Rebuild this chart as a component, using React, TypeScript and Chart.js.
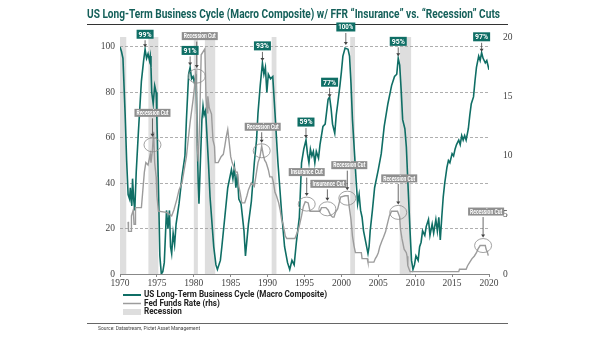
import React, { useEffect, useRef } from 'react';
import { Chart, registerables } from 'chart.js';

Chart.register(...registerables);

// ---------- data ----------
const macroYears = [
  1970.0, 1970.2, 1970.4, 1970.7, 1970.9, 1971.1, 1971.3, 1971.4, 1971.6, 1971.7, 1971.85, 1972.0, 1972.2, 1972.5, 1972.9,
  1973.2, 1973.4, 1973.6, 1973.8, 1974.0, 1974.1, 1974.2, 1974.3, 1974.5, 1974.7, 1974.9, 1975.0, 1975.2, 1975.4, 1975.6,
  1975.8, 1976.0, 1976.3, 1976.5, 1976.7, 1976.85, 1977.0, 1977.2, 1977.4, 1977.6, 1978.0, 1978.4, 1978.8, 1979.0, 1979.3,
  1979.5, 1979.7, 1979.9, 1980.1, 1980.3, 1980.45, 1980.6, 1980.7, 1980.9, 1981.1, 1981.25, 1981.4, 1981.6, 1981.7, 1982.0,
  1982.2, 1982.7, 1983.0, 1983.2, 1983.6, 1983.8, 1984.2, 1984.6, 1985.1, 1985.3, 1985.5, 1985.7, 1985.9, 1986.1, 1986.4,
  1986.8, 1987.0, 1987.4, 1987.8, 1988.2, 1988.5, 1988.7, 1989.0, 1989.3, 1989.5, 1989.7, 1989.9, 1990.1, 1990.4, 1990.7,
  1991.0, 1991.4, 1991.9, 1992.3, 1992.7, 1993.0, 1993.3, 1993.6, 1993.9, 1994.3, 1994.6, 1994.9, 1995.2, 1995.4, 1995.6,
  1995.8, 1996.0, 1996.2, 1996.4, 1996.6, 1996.9, 1997.1, 1997.5, 1997.8, 1998.2, 1998.4, 1998.6, 1998.8, 1999.1, 1999.3,
  1999.5, 1999.8, 2000.0, 2000.2, 2000.5, 2000.9, 2001.1, 2001.3, 2001.5, 2001.8, 2002.0, 2002.2, 2002.4, 2002.6, 2002.8,
  2003.0, 2003.3, 2003.6, 2003.75, 2003.9, 2004.2, 2004.5, 2005.0, 2005.4, 2005.8, 2006.3, 2006.8, 2007.2, 2007.5, 2007.7,
  2007.9, 2008.1, 2008.3, 2008.6, 2008.8, 2009.0, 2009.3, 2009.5, 2009.7, 2009.9, 2010.1, 2010.4, 2010.6, 2010.8, 2011.0,
  2011.3, 2011.5, 2011.8, 2012.0, 2012.3, 2012.5, 2012.8, 2013.0, 2013.2, 2013.4, 2013.6, 2013.8, 2014.0, 2014.3, 2014.5,
  2014.7, 2015.0, 2015.2, 2015.4, 2015.6, 2015.9, 2016.1, 2016.3, 2016.5, 2016.7, 2016.9, 2017.2, 2017.4, 2017.6, 2017.9,
  2018.1, 2018.3, 2018.6, 2018.8, 2019.0, 2019.2, 2019.5, 2019.7, 2020.0,
];
const macroValues = [
  100, 98, 95, 70, 50, 35, 33, 38, 30, 42, 33, 28, 45, 63, 85,
  94, 99, 95, 97, 94, 96, 91, 80, 75, 83, 80, 68, 40, 8, 0,
  1, 5, 28, 20, 28, 12, 9, 18, 13, 22, 31, 43, 52, 68, 88,
  91, 86, 87, 84, 88, 62, 40, 31, 50, 68, 74, 70, 72, 66, 48,
  34, 12, 4, 2, 6, 12, 25, 38, 46, 42, 47, 38, 44, 33, 31,
  19, 8, 22, 32, 49, 59, 71, 83, 93, 88, 91, 80, 88, 86, 87,
  71, 49, 27, 12, 5, 2, 6, 4, 14, 25, 49, 55, 59, 53, 49,
  55, 52, 54, 49, 54, 51, 57, 65, 66, 77, 78, 73, 66, 62, 70,
  75, 83, 89, 96, 99.5, 99, 96, 84, 68, 52, 41, 31, 35, 28, 25,
  19, 14, 9, 12, 19, 28, 38, 46, 53, 65, 75, 83, 87, 88, 95,
  92, 81, 68, 64, 56, 41, 19, 6, 2, 4, 8, 6, 12, 14, 19,
  17, 21, 24, 17, 22, 18, 24, 19, 25, 15, 25, 34, 40, 47, 50,
  49, 53, 52, 55, 57, 59, 57, 61, 59, 61, 59, 64, 70, 75, 78,
  85, 91, 96, 94, 97.5, 95, 93, 94, 90,
];

const ffrYears = [
  1971.1, 1971.15, 1971.5, 1971.55, 1971.8, 1971.9, 1972.05, 1972.1, 1972.9, 1973.1, 1973.3, 1973.5, 1973.8, 1974.1, 1974.2,
  1974.4, 1974.55, 1974.7, 1974.9, 1975.0, 1975.2, 1976.3, 1977.0, 1977.3, 1977.7, 1978.0, 1978.4, 1978.7, 1979.0, 1979.2,
  1979.5, 1979.9, 1980.1, 1980.3, 1980.45, 1980.6, 1980.8, 1981.0, 1981.5, 1981.65, 1981.8, 1981.9, 1982.1, 1982.4, 1982.6,
  1982.8, 1982.9, 1983.3, 1983.7, 1984.0, 1984.2, 1984.4, 1984.6, 1984.8, 1985.0, 1985.2, 1985.4, 1985.7, 1985.9, 1986.1,
  1986.3, 1986.5, 1986.9, 1987.2, 1987.4, 1987.6, 1987.8, 1988.2, 1988.5, 1988.7, 1988.97, 1989.2, 1989.4, 1989.6, 1989.8,
  1990.1, 1990.3, 1990.6, 1990.8, 1991.0, 1991.2, 1991.5, 1991.7, 1991.9, 1992.1, 1992.4, 1992.6, 1993.7, 1994.2, 1994.6,
  1994.85, 1995.1, 1995.5, 1995.75, 1997.1, 1997.3, 1997.9, 1998.2, 1998.5, 1998.8, 1999.0, 1999.2, 1999.5, 1999.7, 1999.9,
  2000.5, 2000.9, 2001.05, 2001.3, 2001.5, 2001.7, 2001.9, 2002.7, 2002.8, 2003.5, 2003.6, 2004.4, 2004.6, 2004.8, 2005.0,
  2005.2, 2005.5, 2005.7, 2006.0, 2006.1, 2006.3, 2006.5, 2006.8, 2007.6, 2007.9, 2008.0, 2008.2, 2008.3, 2008.5, 2008.8,
  2008.9, 2009.0, 2009.3, 2015.9, 2016.0, 2016.9, 2017.1, 2017.4, 2017.7, 2018.0, 2018.3, 2018.5, 2018.8, 2019.5, 2019.6,
  2019.8, 2019.9,
];
const ffrValues = [
  4.4, 3.6, 3.6, 4.9, 5.4, 4.2, 4.2, 5.6, 5.6, 7.1, 8.6, 9.4, 9.2, 10.1, 9.4,
  10.5, 12.0, 9.4, 8.2, 6.6, 5.3, 5.2, 4.9, 5.4, 6.3, 7.1, 7.7, 8.8, 9.9, 11.1,
  12.8, 14.7, 15.8, 17.2, 11.0, 9.5, 13.0, 18.5, 19.0, 15.0, 13.6, 15.0, 14.0, 13.5, 11.3,
  10.8, 9.4, 9.4, 9.9, 10.1, 10.8, 11.6, 12.2, 11.1, 9.9, 9.4, 9.1, 8.6, 8.6, 7.4,
  6.8, 6.0, 6.0, 6.6, 7.1, 7.4, 7.7, 7.4, 8.6, 9.4, 9.9, 10.8, 10.1, 9.6, 9.4,
  8.8, 8.2, 8.2, 7.7, 6.9, 6.6, 6.0, 5.4, 4.6, 4.2, 3.2, 3.0, 3.0, 3.8, 4.9,
  5.7, 6.1, 6.0, 5.3, 5.3, 5.6, 5.6, 5.4, 5.0, 4.8, 4.8, 5.2, 5.5, 6.0, 6.5,
  6.6, 6.6, 5.7, 4.6, 3.2, 2.4, 1.8, 1.8, 1.3, 1.3, 1.0, 1.0, 1.3, 1.5, 1.8,
  2.3, 2.8, 3.1, 3.6, 3.9, 4.4, 4.9, 5.3, 5.3, 4.8, 3.8, 3.0, 2.7, 2.1, 1.8,
  1.5, 0.7, 0.2, 0.2, 0.4, 0.4, 0.7, 1.0, 1.3, 1.5, 1.8, 2.1, 2.4, 2.4, 2.1,
  1.8, 1.55,
];

const recessionStarts = [1969.9, 1973.85, 1980.0, 1981.5, 1990.55, 2001.2, 2007.9];
const recessionEnds = [1970.85, 1975.2, 1980.55, 1982.9, 1991.2, 2001.85, 2009.45];

const peakLabels = ['99%', '91%', '93%', '59%', '77%', '100%', '95%', '97%'];
const peakYears = [1973.4, 1979.5, 1989.3, 1995.2, 1998.4, 2000.6, 2007.7, 2019.0];
const peakValues = [99, 91, 93, 59, 77, 100, 95, 97];

const cutLabels = ['Recession Cut', 'Recession Cut', 'Recession Cut', 'Insurance Cut', 'Insurance Cut', 'Recession Cut', 'Recession Cut', 'Recession Cut'];
const cutYears = [1974.4, 1980.4, 1989.2, 1995.3, 1998.1, 2000.8, 2007.7, 2019.2];
const cutRates = [10.9, 16.7, 10.4, 5.9, 5.5, 6.4, 5.2, 2.4];

const titleText = 'US Long-Term Business Cycle (Macro Composite) w/ FFR \u201CInsurance\u201D vs. \u201CRecession\u201D Cuts';
const legendLabels = ['US Long-Term Business Cycle (Macro Composite)', 'Fed Funds Rate (rhs)', 'Recession'];
const sourceText = 'Source: Datastream, Pictet Asset Management';

// ---------- layout / style (not data) ----------
const TEAL = '#0f6e65';
const GREY_LINE = '#9c9c9c';
const BAND = '#dedede';
const peakDy = [-15, -17, -17, -18, -17, -20, -17, -17];
const cutDx = [0, 3, 1, 0, 1, 2, 1, 3];
const cutDy = [-32, -40, -24, -32, -25, -33, -34, -34];

function drawFitted(ctx: CanvasRenderingContext2D, text: string, x: number, y: number, font: string, color: string, width: number | null, align: CanvasTextAlign = 'left', scaleOverride?: number) {
  ctx.save();
  ctx.font = font;
  ctx.fillStyle = color;
  ctx.textBaseline = 'middle';
  ctx.textAlign = align;
  const w = ctx.measureText(text).width;
  const s = scaleOverride !== undefined ? scaleOverride : (width ? width / w : 1);
  ctx.translate(x, y);
  ctx.scale(s, 1);
  ctx.fillText(text, 0, 0);
  ctx.restore();
  return s;
}

function arrow(ctx: CanvasRenderingContext2D, x: number, y1: number, y2: number) {
  ctx.save();
  ctx.strokeStyle = '#444';
  ctx.fillStyle = '#444';
  ctx.lineWidth = 0.8;
  ctx.beginPath();
  ctx.moveTo(x, y1);
  ctx.lineTo(x, y2 - 2);
  ctx.stroke();
  ctx.beginPath();
  ctx.moveTo(x - 2, y2 - 3);
  ctx.lineTo(x + 2, y2 - 3);
  ctx.lineTo(x, y2);
  ctx.closePath();
  ctx.fill();
  ctx.restore();
}

const overlayPlugin = {
  id: 'overlay',
  beforeDraw(chart: any) {
    const { ctx, chartArea, scales } = chart;
    const xs = scales.x;
    ctx.save();
    ctx.fillStyle = BAND;
    for (let i = 0; i < recessionStarts.length; i++) {
      const a = Math.max(chartArea.left, xs.getPixelForValue(recessionStarts[i]));
      const b = Math.min(chartArea.right, xs.getPixelForValue(recessionEnds[i]));
      ctx.fillRect(a, chartArea.top, b - a, chartArea.bottom - chartArea.top);
    }
    ctx.restore();
  },
  afterDraw(chart: any) {
    const { ctx, scales } = chart;
    const xs = scales.x, ys = scales.y, y1 = scales.y1;

    // title
    drawFitted(ctx, titleText, 87, 15, 'bold 12px Roboto, sans-serif', '#15605a', 413);
    ctx.save();
    ctx.strokeStyle = '#333';
    ctx.lineWidth = 1;
    ctx.beginPath();
    ctx.moveTo(87, 24.5);
    ctx.lineTo(508, 24.5);
    ctx.stroke();
    // separator
    ctx.strokeStyle = '#666';
    ctx.beginPath();
    ctx.moveTo(87, 323.5);
    ctx.lineTo(508, 323.5);
    ctx.stroke();
    ctx.restore();

    // legend
    ctx.save();
    ctx.strokeStyle = TEAL;
    ctx.lineWidth = 2;
    ctx.beginPath(); ctx.moveTo(123, 295); ctx.lineTo(141, 295); ctx.stroke();
    ctx.strokeStyle = GREY_LINE;
    ctx.lineWidth = 1.5;
    ctx.beginPath(); ctx.moveTo(123, 303.5); ctx.lineTo(141, 303.5); ctx.stroke();
    ctx.fillStyle = BAND;
    ctx.fillRect(123, 309, 18, 6);
    ctx.restore();
    const lf = 'bold 9px Roboto, sans-serif';
    const s = drawFitted(ctx, legendLabels[0], 144, 295, lf, '#222', 183);
    drawFitted(ctx, legendLabels[1], 144, 303.5, lf, '#222', null, 'left', s);
    drawFitted(ctx, legendLabels[2], 144, 312, lf, '#222', null, 'left', s);

    // source
    drawFitted(ctx, sourceText, 98, 329, '5.5px Roboto, sans-serif', '#444', 102);

    // cut annotations
    for (let i = 0; i < cutLabels.length; i++) {
      const cx = xs.getPixelForValue(cutYears[i]);
      const cy = y1.getPixelForValue(cutRates[i]);
      ctx.save();
      ctx.strokeStyle = '#8a8a8a';
      ctx.lineWidth = 0.8;
      ctx.beginPath();
      ctx.ellipse(cx, cy, 8.5, 7, 0, 0, Math.PI * 2);
      ctx.stroke();
      ctx.restore();
      const bx = cx + cutDx[i];
      const by = cy + cutDy[i];
      const bw = 36, bh = 8;
      ctx.save();
      ctx.fillStyle = '#8f8f8f';
      ctx.fillRect(bx - bw / 2, by - bh / 2, bw, bh);
      ctx.restore();
      drawFitted(ctx, cutLabels[i], bx, by + 0.3, 'bold 8px Roboto, sans-serif', '#fff', bw - 4, 'center');
      arrow(ctx, cx, by + bh / 2 + 1.5, cy - 8);
    }

    // peak annotations
    for (let i = 0; i < peakLabels.length; i++) {
      const px = xs.getPixelForValue(peakYears[i]);
      const py = ys.getPixelForValue(peakValues[i]);
      const by = py + peakDy[i];
      const bw = peakLabels[i].length > 3 ? 19 : 17, bh = 9;
      ctx.save();
      ctx.fillStyle = TEAL;
      ctx.fillRect(px - bw / 2, by - bh / 2, bw, bh);
      ctx.restore();
      drawFitted(ctx, peakLabels[i], px, by + 0.3, 'bold 8px Roboto, sans-serif', '#fff', bw - 4, 'center');
      arrow(ctx, px, by + bh / 2 + 1.5, py - 2);
    }
  },
};

export default function App() {
  const ref = useRef<HTMLCanvasElement | null>(null);
  useEffect(() => {
    if (!ref.current) return;
    const tickFont = { family: "'Liberation Serif', serif", size: 9.5 };
    const chart = new Chart(ref.current, {
      type: 'line',
      data: {
        datasets: [
          {
            label: legendLabels[1],
            data: ffrYears.map((x, i) => ({ x, y: ffrValues[i] })),
            borderColor: GREY_LINE,
            borderWidth: 1.4,
            pointRadius: 0,
            yAxisID: 'y1',
            order: 0,
          },
          {
            label: legendLabels[0],
            data: macroYears.map((x, i) => ({ x, y: macroValues[i] })),
            borderColor: TEAL,
            borderWidth: 1.6,
            pointRadius: 0,
            yAxisID: 'y',
            order: 1,
          },
        ],
      },
      options: {
        animation: false,
        responsive: true,
        maintainAspectRatio: false,
        layout: { padding: { left: 90, right: 86, top: 37, bottom: 49 } },
        plugins: { legend: { display: false }, tooltip: { enabled: false }, title: { display: false } },
        scales: {
          x: {
            type: 'linear',
            min: 1970,
            max: 2020,
            ticks: { stepSize: 5, callback: (v: any) => String(v), font: tickFont, color: '#444', padding: 1, maxRotation: 0, autoSkip: false },
            grid: { drawOnChartArea: false, drawTicks: true, tickLength: 3, color: '#888' },
            border: { display: true, color: '#888' },
            afterFit: (s: any) => { s.height = 18; },
          },
          y: {
            position: 'left',
            min: 0,
            max: 104.4,
            ticks: { stepSize: 20, includeBounds: false, font: tickFont, color: '#444', padding: 5 },
            grid: {
              drawTicks: false,
              lineWidth: 0.8,
              color: (c: any) => (c.tick && c.tick.value === 0 ? 'rgba(0,0,0,0)' : '#9a9a9a'),
            },
            border: { display: false, dash: [3, 2] },
            afterFit: (s: any) => { s.width = 30; },
          },
          y1: {
            position: 'right',
            min: 0,
            max: 20,
            ticks: { stepSize: 5, font: tickFont, color: '#444', padding: 6 },
            grid: { display: false },
            border: { display: false },
            afterFit: (s: any) => { s.width = 30; },
          },
        },
      } as any,
      plugins: [overlayPlugin],
    });
    return () => chart.destroy();
  }, []);
  return (
    <div style={{ position: 'fixed', left: 0, top: 0, width: 605, height: 341, background: '#fff' }}>
      <canvas ref={ref} />
    </div>
  );
}
